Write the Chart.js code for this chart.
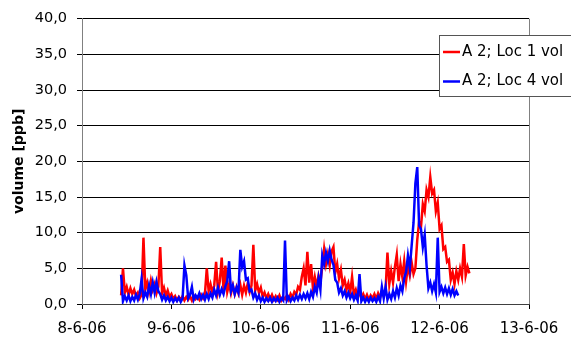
<!DOCTYPE html>
<html><head><meta charset="utf-8">
<script src="https://cdn.jsdelivr.net/npm/chart.js@4"></script>
<style>html,body{margin:0;padding:0;background:#fff;overflow:hidden}#wrap{width:571px;height:342px;position:relative}</style>
</head><body><div id="wrap"><canvas id="c" width="571" height="342"></canvas></div>
<script>
const xTickLabels = ["8-6-06","9-6-06","10-6-06","11-6-06","12-6-06","13-6-06"];
const yTickLabels = ["0,0","5,0","10,0","15,0","20,0","25,0","30,0","35,0","40,0"];
const seriesNames = ["A 2; Loc 1 vol","A 2; Loc 4 vol"];
const yTitle = "volume [ppb]";
const startDay = 0.4375;   // days after 8-6-06 00:00 (10:30)
const stepDay = 1 / 48;    // 30-minute readings

const loc1 = [
  1.2, 5.0, 1.6, 2.4, 1.3, 2.2, 1.4, 2.0, 1.1, 1.6, 0.8, 1.3,
  9.3, 2.0, 3.0, 1.7, 3.3, 2.0, 2.8, 1.5, 2.4, 8.0, 1.5, 2.3,
  1.2, 1.9, 1.0, 1.4, 0.7, 1.1, 0.5, 1.0, 0.6, 1.1, 0.5, 1.0,
  0.6, 1.1, 0.5, 1.2, 0.7, 1.0, 0.6, 1.3, 0.8, 1.4, 5.0, 1.8,
  2.8, 1.6, 2.6, 5.9, 1.8, 3.2, 6.5, 2.0, 5.4, 1.7, 2.8, 1.5,
  2.6, 1.4, 2.4, 1.5, 2.7, 1.3, 2.6, 1.6, 2.9, 1.7, 2.6, 8.3,
  1.9, 2.8, 1.6, 2.3, 1.0, 1.6, 0.8, 1.4, 0.7, 1.3, 0.6, 1.1,
  0.6, 1.2, 0.5, 1.0, 0.7, 1.2, 0.6, 1.4, 0.9, 1.7, 1.3, 2.4,
  2.0, 3.8, 5.0, 2.6, 7.3, 3.0, 5.6, 2.2, 3.8, 2.4, 4.0, 3.0,
  5.2, 7.7, 5.6, 7.0, 5.4, 7.4, 8.0, 4.4, 5.6, 3.6, 4.8, 2.6,
  3.4, 2.0, 2.9, 1.6, 3.8, 1.3, 2.0, 1.0, 1.6, 0.8, 1.4, 0.7,
  1.3, 0.6, 1.2, 0.8, 1.4, 0.7, 1.5, 0.9, 1.8, 1.1, 2.0, 7.2,
  2.8, 4.6, 3.0, 5.2, 6.9, 3.2, 5.6, 3.8, 6.0, 3.2, 5.4, 4.0,
  5.8, 4.2, 5.0, 9.0, 11.5, 10.8, 14.0, 13.0, 16.0, 15.0, 17.8, 15.5,
  16.0, 13.0, 14.2, 10.5, 11.0, 7.7, 8.0, 5.9, 6.2, 3.4, 4.4, 2.8,
  4.6, 3.4, 5.0, 3.8, 8.4, 4.0, 5.2, 4.3
];
const loc4 = [
  4.1, 0.4, 1.1, 0.5, 1.2, 0.4, 1.0, 0.5, 1.3, 0.6, 1.4, 3.5,
  0.8, 1.6, 1.0, 2.6, 1.4, 3.0, 1.6, 3.1, 1.8, 1.4, 0.6, 1.2,
  0.5, 1.0, 0.4, 0.9, 0.3, 0.8, 0.4, 0.9, 0.3, 0.8, 5.4, 4.0,
  0.8, 1.3, 2.4, 0.6, 1.2, 0.8, 1.5, 0.7, 1.3, 0.6, 1.4, 0.7,
  1.5, 0.9, 2.0, 1.2, 2.3, 1.3, 2.1, 1.4, 2.5, 3.2, 6.0, 1.8,
  2.6, 1.4, 2.3, 1.6, 7.6, 5.2, 6.0, 3.4, 3.6, 1.8, 2.0, 0.9,
  1.5, 0.6, 1.2, 0.4, 0.9, 0.3, 0.8, 0.4, 0.9, 0.3, 0.8, 0.4,
  0.9, 0.3, 0.8, 0.5, 8.9, 0.5, 1.0, 0.4, 0.9, 0.5, 1.2, 0.6,
  1.3, 0.7, 1.4, 0.8, 1.5, 0.7, 1.7, 1.0, 2.4, 1.6, 3.6, 2.0,
  6.8, 5.6, 7.2, 6.0, 7.5, 6.2, 5.5, 3.4, 3.0, 1.6, 2.2, 1.2,
  1.8, 0.9, 1.6, 0.8, 1.4, 0.6, 1.2, 0.5, 4.2, 0.4, 0.9, 0.3,
  0.8, 0.3, 0.9, 0.4, 0.8, 0.3, 1.0, 0.4, 2.4, 0.8, 2.4, 0.6,
  1.4, 0.7, 1.8, 0.9, 2.2, 1.2, 2.6, 1.8, 3.6, 4.5, 6.8, 5.0,
  8.2, 11.4, 16.9, 19.2, 11.0, 10.5, 8.0, 9.7, 5.4, 2.2, 3.0, 1.8,
  2.8, 1.6, 9.3, 1.7, 2.4, 1.5, 2.3, 1.4, 2.2, 1.3, 2.1, 1.2,
  1.8, 1.2
];
const seriesColors = ["#ff0000", "#0000ff"];

const toPoints = arr => arr.map((v, i) => ({ x: startDay + i * stepDay, y: v }));

Chart.defaults.font.family = "'DejaVu Sans', sans-serif";
Chart.defaults.color = "#000";

const frameAndLegend = {
  id: 'frameAndLegend',
  afterDraw(chart) {
    const ctx = chart.ctx;
    const a = chart.chartArea;
    ctx.save();
    ctx.strokeStyle = '#808080';
    ctx.lineWidth = 1;
    const rx = Math.round(a.right) + 0.5;
    ctx.beginPath(); ctx.moveTo(rx, a.top); ctx.lineTo(rx, a.bottom); ctx.stroke();
    ctx.fillStyle = '#fff';
    ctx.fillRect(439.5, 35.5, 150, 61);
    ctx.strokeStyle = '#555';
    ctx.strokeRect(439.5, 35.5, 150, 61);
    ctx.font = "15px 'DejaVu Sans', sans-serif";
    ctx.textBaseline = 'middle';
    ctx.textAlign = 'left';
    chart.data.datasets.forEach((ds, k) => {
      const y = 52 + k * 29.5;
      ctx.strokeStyle = ds.borderColor;
      ctx.lineWidth = 2.5;
      ctx.beginPath(); ctx.moveTo(443, y); ctx.lineTo(460, y); ctx.stroke();
      ctx.fillStyle = '#000';
      ctx.fillText(ds.label, 462, y);
    });
    ctx.restore();
  }
};

new Chart(document.getElementById('c'), {
  type: 'line',
  data: {
    datasets: [
      { label: seriesNames[0], data: toPoints(loc1), borderColor: seriesColors[0], backgroundColor: seriesColors[0], borderWidth: 2.5, pointRadius: 0, tension: 0, order: 1 },
      { label: seriesNames[1], data: toPoints(loc4), borderColor: seriesColors[1], backgroundColor: seriesColors[1], borderWidth: 2.5, pointRadius: 0, tension: 0, order: 0 }
    ]
  },
  options: {
    responsive: false,
    animation: false,
    events: [],
    layout: { padding: { top: 15, right: 42, left: 0, bottom: 0 } },
    plugins: { legend: { display: false }, tooltip: { enabled: false } },
    scales: {
      x: {
        type: 'linear', min: 0, max: 5,
        ticks: { stepSize: 1, autoSkip: false, maxRotation: 0, padding: 11, font: { size: 15 },
          callback: v => xTickLabels[Math.round(v)] },
        grid: { drawOnChartArea: false, drawTicks: true, tickLength: 5, color: '#000', tickColor: '#000' },
        border: { display: true, color: '#404040' },
        afterFit: s => { s.height = 38; }
      },
      y: {
        min: 0, max: 40,
        ticks: { stepSize: 5, padding: 10, font: { size: 14.5 },
          callback: v => yTickLabels[Math.round(v / 5)] },
        grid: { color: '#000', tickColor: '#000', tickLength: 5 },
        border: { display: true, color: '#808080' },
        title: { display: true, text: yTitle, font: { size: 14, weight: 'bold' }, padding: { top: 11, bottom: 0 } },
        afterFit: s => { s.width = 82; }
      }
    }
  },
  plugins: [frameAndLegend]
});
</script>
</body></html>
